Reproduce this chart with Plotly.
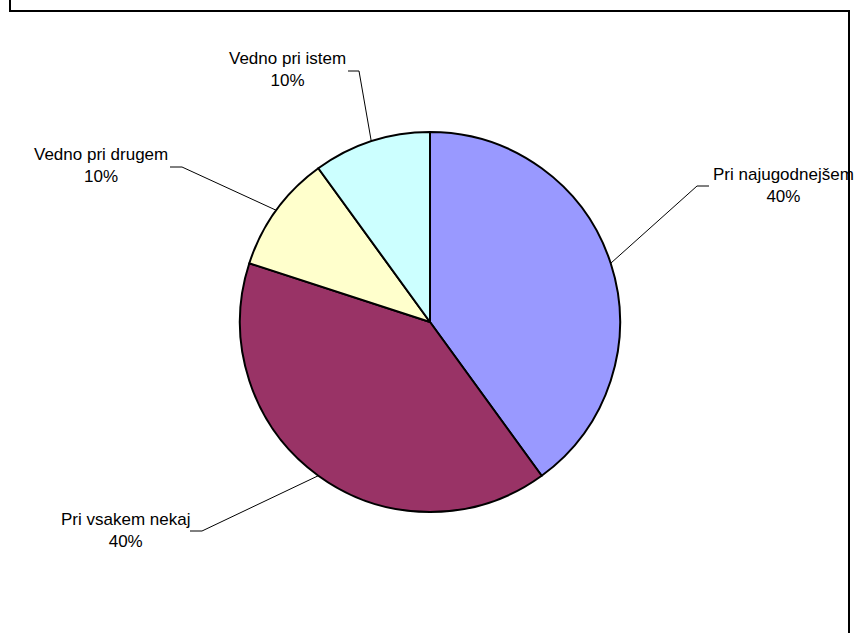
import math
import plotly.graph_objects as go

# Survey answers and their shares (%)
categories = ["Pri najugodnejšem", "Pri vsakem nekaj", "Vedno pri drugem", "Vedno pri istem"]
shares = [40, 40, 10, 10]
colors = ["#9999FF", "#993366", "#FFFFCC", "#CCFFFF"]

W, H = 855, 633
CX, CY, R = 430, 322, 190          # pie centre and radius in pixels

# label placement: (elbow x, elbow y, end x, label centre x, label middle y)
label_pos = [
    (697, 186, 709, 783, 186),
    (202, 531, 190, 125, 530),
    (182, 167, 170, 101, 166),
    (359, 71, 348, 287, 70),
]


def fx(px):
    return px / W


def fy(py):
    return 1 - py / H


fig = go.Figure(go.Pie(
    labels=categories,
    values=shares,
    sort=False,
    direction="clockwise",
    rotation=0,
    marker=dict(colors=colors, line=dict(color="black", width=2)),
    textinfo="none",
    hoverinfo="label+percent",
    domain=dict(x=[fx(CX - R), fx(CX + R)], y=[fy(CY + R), fy(CY - R)]),
    showlegend=False,
))

shapes = [
    # chart frame
    dict(type="path", xref="paper", yref="paper",
         path=f"M {fx(10)} {fy(-40)} L {fx(10)} {fy(11)} L {fx(849)} {fy(11)} L {fx(849)} {fy(700)}",
         line=dict(color="black", width=2)),
]
annotations = []

total = sum(shares)
cum = 0
for name, val, (ex, ey, endx, lx, ly) in zip(categories, shares, label_pos):
    mid = (cum + val / 2) / total * 2 * math.pi
    cum += val
    sx = CX + R * math.sin(mid)
    sy = CY - R * math.cos(mid)
    shapes.append(dict(
        type="path", xref="paper", yref="paper",
        path=f"M {fx(sx)} {fy(sy)} L {fx(ex)} {fy(ey)} L {fx(endx)} {fy(ey)}",
        line=dict(color="black", width=1),
    ))
    pct = round(val / total * 100)
    annotations.append(dict(
        x=fx(lx), y=fy(ly), xref="paper", yref="paper",
        text=f"{name}<br>{pct}%", showarrow=False,
        xanchor="center", yanchor="middle", align="center",
        font=dict(family="Liberation Sans, Arial, sans-serif", size=17, color="black"),
    ))

fig.update_layout(
    width=W, height=H,
    margin=dict(l=0, r=0, t=0, b=0),
    paper_bgcolor="white", plot_bgcolor="white",
    shapes=shapes, annotations=annotations,
)

fig.write_html("out.html")
